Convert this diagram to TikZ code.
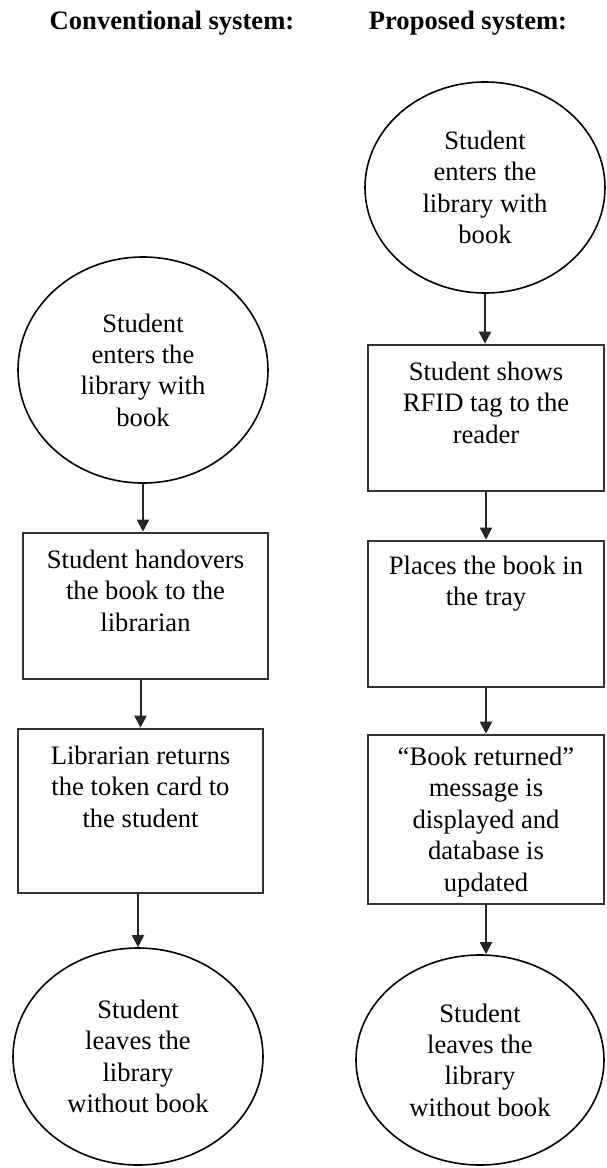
\documentclass[tikz,border=0pt]{standalone}
\usepackage{fontspec}
\setmainfont{Liberation Serif}
\usetikzlibrary{shapes.geometric,arrows.meta}
\begin{document}
\begin{tikzpicture}[x=0.5pt,y=-0.5pt]
\tikzset{every node/.style={font=\fontsize{13.3}{15.7}\selectfont},
  oval/.style={draw,ellipse,line width=0.8pt,inner sep=0pt,align=center},
  stepbox/.style={draw=black!80,line width=1.3pt,inner sep=0pt},
  txt/.style={anchor=north,inner sep=0pt,align=center},
  arr/.style={draw=black!85,line width=1pt,-{Triangle[width=6pt,length=6pt]}},
  title/.style={font=\fontsize{13.3}{15.7}\selectfont\bfseries,anchor=base}}
\useasboundingbox (0,0) rectangle (606,1168);
\node[title] (tconv) at (172,29) {Conventional system:};
\node[title] (tprop) at (468,29) {Proposed system:};
\node[oval,minimum width=125pt,minimum height=113pt] (le1) at (143,370) {Student\\enters the\\library with\\book};
\node[stepbox,minimum width=122.5pt,minimum height=73pt] (lb1) at (145.5,606) {};
\node[txt] (lb1t) at ([yshift=-9pt]lb1.north) {Student handovers\\the book to the\\librarian};
\node[stepbox,minimum width=122.5pt,minimum height=82pt] (lb2) at (140.5,811) {};
\node[txt] (lb2t) at ([yshift=-9pt]lb2.north) {Librarian returns\\the token card to\\the student};
\node[oval,minimum width=125pt,minimum height=108.5pt] (le2) at (138,1056.5) {Student\\leaves the\\library\\without book};
\node[oval,minimum width=120pt,minimum height=105.5pt] (re1) at (485,187.5) {Student\\enters the\\library with\\book};
\node[stepbox,minimum width=118pt,minimum height=73pt] (rb1) at (486,418) {};
\node[txt] (rb1t) at ([yshift=-9pt]rb1.north) {Student shows\\RFID tag to the\\reader};
\node[stepbox,minimum width=118pt,minimum height=73pt] (rb2) at (486,614) {};
\node[txt] (rb2t) at ([yshift=-8pt]rb2.north) {Places the book in\\the tray};
\node[stepbox,minimum width=118pt,minimum height=84.5pt] (rb3) at (486,819.5) {};
\node[txt] (rb3t) at ([yshift=-6.5pt]rb3.north) {“Book returned”\\message is\\displayed and\\database is\\updated};
\node[oval,minimum width=124pt,minimum height=105pt] (re2) at (480,1060) {Student\\leaves the\\library\\without book};
\draw[arr] (le1.south) -- (le1.south |- lb1.north);
\draw[arr] (lb2.north |- lb1.south) -- (lb2.north);
\draw[arr] (le2.north |- lb2.south) -- (le2.north);
\draw[arr] (re1.south) -- (re1.south |- rb1.north);
\draw[arr] (rb1.south) -- (rb2.north);
\draw[arr] (rb2.south) -- (rb3.north);
\draw[arr] (rb3.south) -- (rb3.south |- re2.north);
\end{tikzpicture}
\end{document}
